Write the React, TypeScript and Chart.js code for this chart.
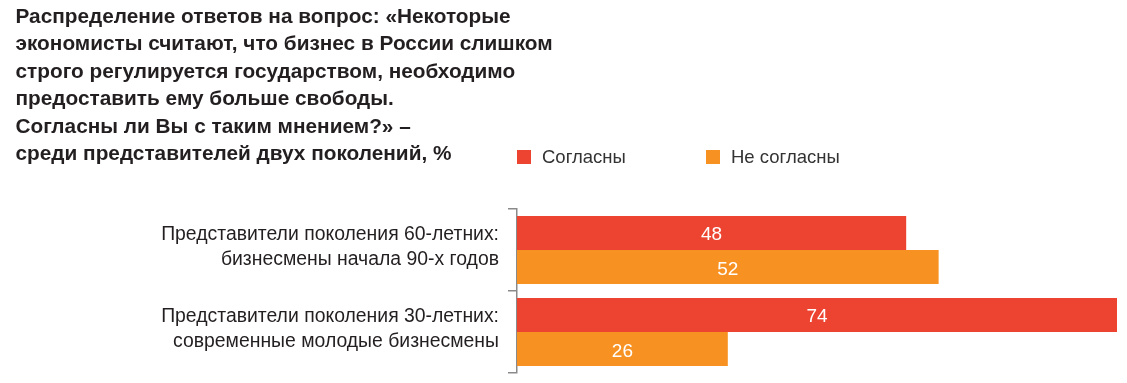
import React, { useEffect, useRef } from "react";
import { Chart, registerables } from "chart.js";

Chart.register(...registerables);

const titleLines = [
  "Распределение ответов на вопрос: «Некоторые",
  "экономисты считают, что бизнес в России слишком",
  "строго регулируется государством, необходимо",
  "предоставить ему больше свободы.",
  "Согласны ли Вы с таким мнением?» –",
  "среди представителей двух поколений, %",
];

const categories = [
  ["Представители поколения 60-летних:", "бизнесмены начала 90-х годов"],
  ["Представители поколения 30-летних:", "современные молодые бизнесмены"],
];

const seriesNames = ["Согласны", "Не согласны"];
const agreeValues = [48, 74];
const disagreeValues = [52, 26];
const colors = ["#EC4430", "#F79222"];

const FONT = "'Liberation Sans', Arial, Helvetica, sans-serif";

const valueLabels = {
  id: "valueLabels",
  afterDatasetsDraw(chart: any) {
    const ctx = chart.ctx;
    ctx.save();
    ctx.fillStyle = "#ffffff";
    ctx.font = `19px ${FONT}`;
    ctx.textAlign = "center";
    ctx.textBaseline = "alphabetic";
    chart.data.datasets.forEach((ds: any, i: number) => {
      const meta = chart.getDatasetMeta(i);
      meta.data.forEach((bar: any, j: number) => {
        const cx = (bar.x + bar.base) / 2;
        ctx.fillText(String(ds.data[j]), cx, bar.y + 7.5);
      });
    });
    ctx.restore();
  },
};

export default function App() {
  const canvasRef = useRef<HTMLCanvasElement | null>(null);

  useEffect(() => {
    document.body.style.margin = "0";
    const chart = new Chart(canvasRef.current as HTMLCanvasElement, {
      type: "bar",
      data: {
        labels: categories as any,
        datasets: [
          {
            label: seriesNames[0],
            data: agreeValues,
            backgroundColor: colors[0],
            categoryPercentage: 0.83,
            barPercentage: 1,
          },
          {
            label: seriesNames[1],
            data: disagreeValues,
            backgroundColor: colors[1],
            categoryPercentage: 0.83,
            barPercentage: 1,
          },
        ],
      },
      options: {
        indexAxis: "y",
        animation: false,
        responsive: false,
        maintainAspectRatio: false,
        layout: { padding: { top: 209, right: 10, bottom: 10, left: 0 } },
        plugins: {
          legend: { display: false },
          tooltip: { enabled: false },
        },
        scales: {
          x: { display: false, min: 0, max: 74 },
          y: {
            offset: true,
            afterFit: (s: any) => {
              s.width = 517;
              s.paddingTop = 0;
              s.paddingBottom = 0;
            },
            grid: {
              offset: true,
              drawOnChartArea: false,
              drawTicks: true,
              tickLength: 9,
              color: "#8a8a8a",
              lineWidth: 1.5,
            },
            border: { display: true, color: "#8a8a8a", width: 1.5 },
            ticks: {
              padding: 9,
              labelOffset: -3,
              color: "#231F20",
              font: { family: FONT, size: 19.4, lineHeight: 1.28 },
            },
          },
        },
      },
      plugins: [valueLabels],
    });
    return () => chart.destroy();
  }, []);

  return (
    <div style={{ position: "relative", width: 1127, height: 383, overflow: "hidden", background: "#fff" }}>
      <canvas ref={canvasRef} width={1127} height={383} style={{ position: "absolute", left: 0, top: 0 }} />
      <div
        style={{
          position: "absolute",
          left: 15.5,
          top: 2,
          fontFamily: FONT,
          fontWeight: "bold",
          fontSize: 20.8,
          lineHeight: "27.4px",
          color: "#231F20",
          whiteSpace: "nowrap",
        }}
      >
        {titleLines.map((l, i) => (
          <div key={i}>{l}</div>
        ))}
      </div>
      {seriesNames.map((name, i) => (
        <div
          key={name}
          style={{
            position: "absolute",
            left: i === 0 ? 517 : 706,
            top: 146,
            height: 22,
            display: "flex",
            alignItems: "center",
            fontFamily: FONT,
            fontSize: 18.5,
            color: "#333",
            whiteSpace: "nowrap",
          }}
        >
          <span style={{ display: "inline-block", width: 14, height: 14, background: colors[i], marginRight: 11 }} />
          <span>{name}</span>
        </div>
      ))}
    </div>
  );
}
